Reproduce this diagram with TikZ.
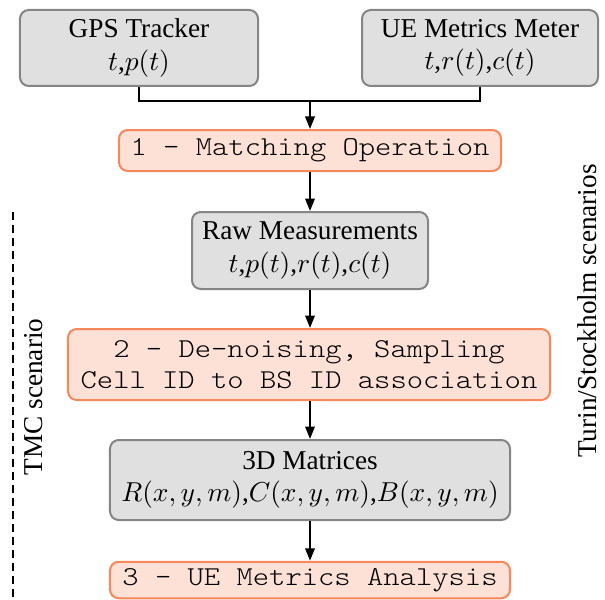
\documentclass[tikz,border=0pt]{standalone}
\usepackage{fontspec}
\setmainfont{Liberation Serif}
\setmonofont[FakeStretch=1.14]{lmmonolt10-regular.otf}
\usetikzlibrary{arrows.meta}

\definecolor{boxgray}{HTML}{E0E0E0}
\definecolor{edgegray}{HTML}{858585}
\definecolor{boxpeach}{HTML}{FDE0D6}
\definecolor{edgecoral}{HTML}{F7885C}

\tikzset{
  meas/.style={draw=edgegray, fill=boxgray, line width=0.8pt, rounded corners=3.5pt,
    align=center, inner sep=0pt, font=\fontsize{10.9}{13}\selectfont},
  proc/.style={draw=edgecoral, fill=boxpeach, line width=0.8pt, rounded corners=3.5pt,
    align=center, inner sep=0pt, font=\fontsize{10.9}{12.6}\ttfamily},
  flow/.style={line width=0.8pt, -{Triangle[length=5pt,width=3.8pt]}},
  side/.style={rotate=90, font=\fontsize{10.9}{13}\selectfont}
}

\begin{document}
\begin{tikzpicture}[x=0.4pt, y=-0.4pt]
\useasboundingbox (0,0) rectangle (605,599);

\node[meas, minimum width=95.2pt, minimum height=30.4pt] (gps) at (139,48) {GPS Tracker\\$t$,$p(t)$};
\node[meas, minimum width=94.4pt, minimum height=30.4pt] (ue) at (480,48) {UE Metrics Meter\\$t$,$r(t)$,$c(t)$};
\coordinate (join) at (310,101);

\node[proc, minimum width=152.8pt, minimum height=16.4pt] (match) at (310,150.5) {1 - Matching Operation};
\node[meas, minimum width=94.4pt, minimum height=30.8pt] (raw) at (310,250.5) {Raw Measurements\\$t$,$p(t)$,$r(t)$,$c(t)$};
\node[proc, minimum width=192.8pt, minimum height=28.4pt] (clean) at (309,364.5) {2 - De-noising, Sampling\\Cell ID to BS ID association};
\node[meas, minimum width=160pt, minimum height=32pt] (mat) at (310,480) {3D Matrices\\$R(x,y,m)$,$C(x,y,m)$,$B(x,y,m)$};
\node[proc, minimum width=160pt, minimum height=14.6pt] (ana) at (310,580) {3 - UE Metrics Analysis};

% connectors
\draw[line width=0.8pt] (gps.south) |- (join) -| (ue.south);
\draw[flow] (join) -- (match.north -| join);
\draw[flow] (match.south -| raw) -- (raw.north);
\draw[flow] (raw.south) -- (clean.north -| raw);
\draw[flow] (clean.south -| mat) -- (mat.north);
\draw[flow] (mat.south) -- (ana.north);

% scenarios
\coordinate (tmctop) at (13,212);
\coordinate (tmcbot) at (13,599);
\draw[line width=0.9pt, dash pattern=on 3pt off 2.2pt] (tmctop) -- (tmcbot);
\node[side] (tmc) at (34,397) {TMC scenario};
\node[side] (turin) at (587,311) {Turin/Stockholm scenarios};
\end{tikzpicture}
\end{document}
